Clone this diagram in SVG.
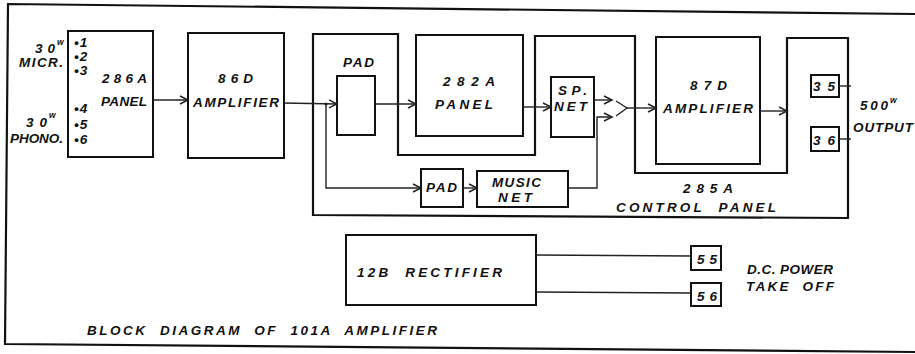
<svg xmlns="http://www.w3.org/2000/svg" width="915" height="354" viewBox="0 0 915 354">
<defs>
<style>
.box{fill:#fff;stroke:#111;stroke-width:2}
.frame{fill:none;stroke:#111;stroke-width:2.2}
.wire{fill:none;stroke:#222;stroke-width:1.4}
.t{font-family:"Liberation Sans",Arial,sans-serif;font-weight:bold;font-style:italic;font-size:13.5px;fill:#111}
.s{font-size:8.5px}
</style>
<marker id="arr" markerUnits="userSpaceOnUse" markerWidth="12" markerHeight="10" refX="9" refY="5" orient="auto">
<path d="M1,1 L9,5 L1,9" fill="none" stroke="#222" stroke-width="1.5"/>
</marker>
</defs>
<rect width="915" height="354" fill="#fff"/>
<g id="outer-frame">
<polyline class="frame" points="915,14 8,4 5,344 915,352"/>
</g>
<g id="control-panel-285A">
<polygon class="frame" points="313,34 398,34 398,155 535,155 535,36 635,36 635,173 787,173 787,38 848,38 848,218 313,215"/>
<text class="t" x="683" y="193" textLength="50" lengthAdjust="spacing">285A</text>
<text class="t" x="616" y="212" textLength="160" lengthAdjust="spacing" xml:space="preserve">CONTROL  PANEL</text>
</g>
<g id="panel-286A">
<rect class="box" x="68" y="31" width="85" height="126"/>
<text class="t" x="102" y="83" textLength="45" lengthAdjust="spacing">286A</text>
<text class="t" x="101" y="106" textLength="46" lengthAdjust="spacing">PANEL</text>
<text class="t" x="74" y="47">•<tspan dx="1">1</tspan></text>
<text class="t" x="74" y="61">•<tspan dx="1">2</tspan></text>
<text class="t" x="74" y="75">•<tspan dx="1">3</tspan></text>
<text class="t" x="74" y="113">•<tspan dx="1">4</tspan></text>
<text class="t" x="74" y="129">•<tspan dx="1">5</tspan></text>
<text class="t" x="74" y="144">•<tspan dx="1">6</tspan></text>
</g>
<g id="input-labels">
<text class="t" x="35" y="53" textLength="20" lengthAdjust="spacing">30</text>
<text class="t s" x="57" y="45">w</text>
<text class="t" x="19" y="67" textLength="44" lengthAdjust="spacing">MICR.</text>
<text class="t" x="26" y="127" textLength="21" lengthAdjust="spacing">30</text>
<text class="t s" x="49" y="118">w</text>
<text class="t" x="10" y="143" textLength="53" lengthAdjust="spacing">PHONO.</text>
</g>
<g id="amp-86D">
<rect class="box" x="188" y="33" width="96" height="125"/>
<text class="t" x="218" y="83" textLength="35" lengthAdjust="spacing">86D</text>
<text class="t" x="193" y="107" textLength="86" lengthAdjust="spacing">AMPLIFIER</text>
</g>
<g id="pad-1">
<rect class="box" x="337" y="76" width="38" height="59"/>
<text class="t" x="343" y="67" textLength="31" lengthAdjust="spacing">PAD</text>
</g>
<g id="panel-282A">
<rect class="box" x="416" y="35" width="107" height="101"/>
<text class="t" x="443" y="86" textLength="52" lengthAdjust="spacing">282A</text>
<text class="t" x="435" y="109" textLength="58" lengthAdjust="spacing">PANEL</text>
</g>
<g id="sp-net">
<rect class="box" x="551" y="77" width="43" height="60"/>
<text class="t" x="558" y="95" textLength="29" lengthAdjust="spacing">SP.</text>
<text class="t" x="554" y="111" textLength="33" lengthAdjust="spacing">NET</text>
</g>
<g id="pad-2">
<rect class="box" x="421" y="169" width="42" height="38"/>
<text class="t" x="426" y="192" textLength="31" lengthAdjust="spacing">PAD</text>
</g>
<g id="music-net">
<rect class="box" x="477" y="171" width="91" height="36"/>
<text class="t" x="492" y="187" textLength="49" lengthAdjust="spacing">MUSIC</text>
<text class="t" x="498" y="202" textLength="34" lengthAdjust="spacing">NET</text>
</g>
<g id="amp-87D">
<rect class="box" x="656" y="37" width="104" height="127"/>
<text class="t" x="690" y="90" textLength="37" lengthAdjust="spacing">87D</text>
<text class="t" x="663" y="113" textLength="90" lengthAdjust="spacing">AMPLIFIER</text>
</g>
<g id="term-35">
<rect class="box" x="811" y="75" width="28" height="22"/>
<text class="t" x="813" y="91" textLength="22" lengthAdjust="spacing">35</text>
</g>
<g id="term-36">
<rect class="box" x="811" y="127" width="28" height="24"/>
<text class="t" x="813" y="145" textLength="22" lengthAdjust="spacing">36</text>
</g>
<g id="output-label">
<text class="t" x="860" y="110" textLength="28" lengthAdjust="spacing">500</text>
<text class="t s" x="890" y="103">w</text>
<text class="t" x="853" y="132" textLength="60" lengthAdjust="spacing">OUTPUT</text>
</g>
<g id="rectifier-12B">
<rect class="box" x="346" y="235" width="190" height="70"/>
<text class="t" x="357" y="277" textLength="145" lengthAdjust="spacing" xml:space="preserve">12B  RECTIFIER</text>
</g>
<g id="term-55">
<rect class="box" x="691" y="246" width="30" height="24"/>
<text class="t" x="697" y="264" textLength="20" lengthAdjust="spacing">55</text>
</g>
<g id="term-56">
<rect class="box" x="691" y="283" width="30" height="23"/>
<text class="t" x="697" y="301" textLength="20" lengthAdjust="spacing">56</text>
</g>
<g id="dc-label">
<text class="t" x="747" y="274" textLength="86" lengthAdjust="spacing">D.C. POWER</text>
<text class="t" x="746" y="291" textLength="88" lengthAdjust="spacing" xml:space="preserve">TAKE  OFF</text>
</g>
<g id="title">
<text class="t" x="87" y="335" textLength="350" lengthAdjust="spacing" xml:space="preserve">BLOCK  DIAGRAM  OF  101A  AMPLIFIER</text>
</g>
<g id="connectors">
<line class="wire" x1="153" y1="100" x2="188" y2="100" marker-end="url(#arr)"/>
<line class="wire" x1="284" y1="103" x2="337" y2="104" marker-end="url(#arr)"/>
<circle cx="326" cy="104" r="1.6" fill="#222"/>
<polyline class="wire" points="326,104 326,188 421,188" marker-end="url(#arr)"/>
<line class="wire" x1="375" y1="104" x2="416" y2="104" marker-end="url(#arr)"/>
<line class="wire" x1="523" y1="107" x2="551" y2="107" marker-end="url(#arr)"/>
<line class="wire" x1="463" y1="188" x2="477" y2="188" marker-end="url(#arr)"/>
<line class="wire" x1="594" y1="100" x2="612" y2="100" marker-end="url(#arr)"/>
<polyline class="wire" points="568,188 597,188 597,117 612,117" marker-end="url(#arr)"/>
<polyline class="wire" points="616,101 627,108 616,116"/>
<line class="wire" x1="627" y1="108" x2="656" y2="108" marker-end="url(#arr)"/>
<line class="wire" x1="760" y1="111" x2="787" y2="111" marker-end="url(#arr)"/>
<line class="wire" x1="839" y1="86" x2="851" y2="86"/>
<line class="wire" x1="839" y1="139" x2="851" y2="139"/>
<line class="wire" x1="536" y1="255" x2="691" y2="256"/>
<line class="wire" x1="536" y1="292" x2="691" y2="293"/>
</g>
</svg>
